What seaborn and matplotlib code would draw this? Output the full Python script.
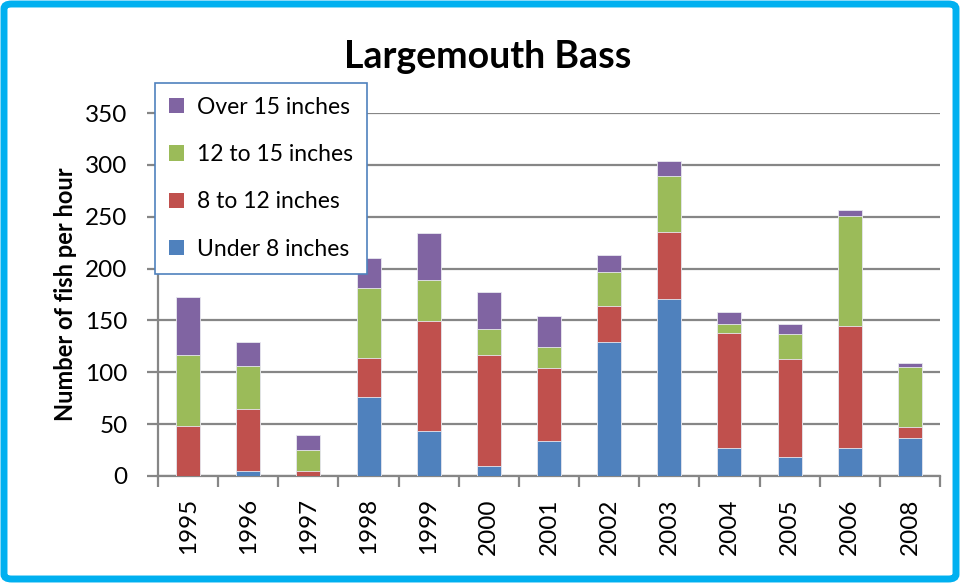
import matplotlib
matplotlib.use("Agg")
import matplotlib.pyplot as plt
from matplotlib.patches import FancyBboxPatch, Patch
import seaborn as sns
import pandas as pd
import numpy as np

years = ["1995", "1996", "1997", "1998", "1999", "2000", "2001",
         "2002", "2003", "2004", "2005", "2006", "2008"]
under_8 = [0, 5, 0, 76, 43, 10, 34, 129, 171, 27, 18, 27, 37]
from_8_to_12 = [48, 60, 5, 38, 106, 107, 70, 35, 64, 111, 95, 118, 10]
from_12_to_15 = [69, 41, 20, 67, 40, 25, 20, 33, 54, 9, 24, 106, 58]
over_15 = [56, 23, 15, 29, 45, 35, 30, 16, 15, 11, 10, 5, 4]

series_names = ["Under 8 inches", "8 to 12 inches", "12 to 15 inches", "Over 15 inches"]
series_vals = [under_8, from_8_to_12, from_12_to_15, over_15]
colors = ["#4F81BD", "#C0504D", "#9BBB59", "#8064A2"]

sns.set_theme(style="white")
plt.rcParams['font.family'] = ['Lato', 'DejaVu Sans']
plt.rcParams['text.color'] = 'black'
plt.rcParams['xtick.color'] = 'black'
plt.rcParams['ytick.color'] = 'black'
plt.rcParams['axes.labelcolor'] = 'black'

fig = plt.figure(figsize=(9.6, 5.83), dpi=100)
ax = fig.add_axes([158/960, 1 - 476/583, (940-158)/960, (476-113)/583])

cum = np.cumsum(np.array(series_vals), axis=0)
df = pd.DataFrame({"year": years})
# draw from top of stack to bottom so each lower segment overlays the upper total
for i in range(len(series_names) - 1, -1, -1):
    df["v"] = cum[i]
    sns.barplot(data=df, x="year", y="v", color=colors[i], width=0.4,
                saturation=1, ax=ax, edgecolor="#e8e8f0", linewidth=0.6,
                zorder=3)

ax.set_ylim(0, 350)
ax.set_xlim(-0.5, len(years) - 0.5)
ax.set_yticks(range(0, 351, 50))
ax.yaxis.grid(True, color="#868686", linewidth=1.6, zorder=0)
ax.set_axisbelow(True)
for s in ["top", "right"]:
    ax.spines[s].set_visible(False)
for s in ["left", "bottom"]:
    ax.spines[s].set_color("#868686")
    ax.spines[s].set_linewidth(1.6)

ax.tick_params(axis="y", which="major", left=True, length=8, width=1.6,
               color="#868686", labelcolor="black", labelsize=17.5, pad=14)
ax.tick_params(axis="x", which="major", bottom=False, labelsize=17.5,
               labelcolor="black", labelrotation=90, pad=10)
ax.set_xticks(np.arange(-0.5, len(years), 1), minor=True)
ax.tick_params(axis="x", which="minor", bottom=True, length=8, width=1.6,
               color="#868686")
ax.set_xlabel("")
ax.set_ylabel("Number of fish per hour", fontsize=17, fontweight="bold",
              labelpad=6, color="black")

fig.text(0.508, 1 - 57/583, "Largemouth Bass", ha="center", va="center",
         fontsize=27, fontweight="bold", color="black")

handles = [Patch(facecolor=colors[i], edgecolor="none") for i in range(3, -1, -1)]
labels = [series_names[i] for i in range(3, -1, -1)]
leg = fig.legend(handles, labels, loc="upper left",
                 bbox_to_anchor=(155/960, 1 - 83/583), bbox_transform=fig.transFigure,
                 borderaxespad=0,
                 fontsize=16.5, frameon=True, fancybox=False, edgecolor="#4F81BD",
                 framealpha=1, labelspacing=1.15, handlelength=0.65,
                 handleheight=0.65, handletextpad=0.6, borderpad=0.6)
leg.get_frame().set_linewidth(1.2)
for t in leg.get_texts():
    t.set_color("black")

border = FancyBboxPatch((4/960, 4/583), 952/960, 575/583,
                        boxstyle="round,pad=0,rounding_size=0.008",
                        transform=fig.transFigure, facecolor="none",
                        edgecolor="#00B0F0", linewidth=5, zorder=10)
fig.patches.append(border)

fig.savefig("out.png", dpi=100)
